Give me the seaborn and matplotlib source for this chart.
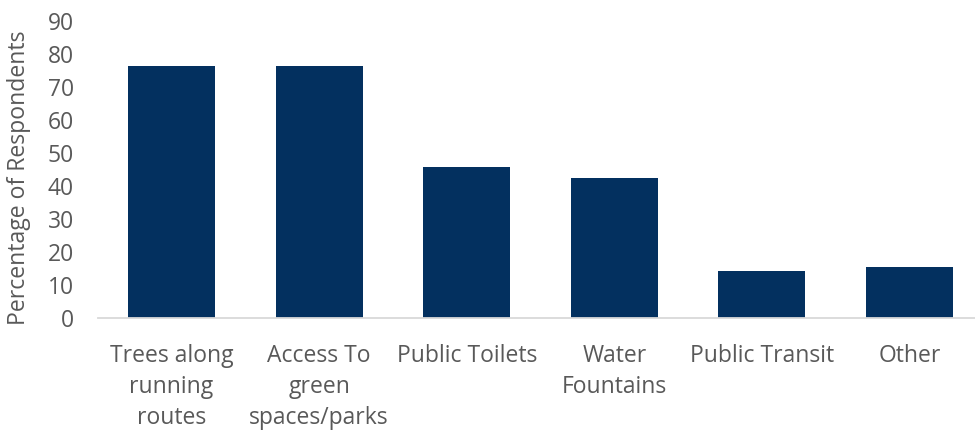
import matplotlib
matplotlib.use("Agg")
import matplotlib.pyplot as plt
import seaborn as sns
import pandas as pd

categories = ["Trees along\nrunning\nroutes", "Access To\ngreen\nspaces/parks", "Public Toilets",
              "Water\nFountains", "Public Transit", "Other"]
values = [76.5, 76.5, 45.8, 42.5, 14.2, 15.4]
yticks = [0, 10, 20, 30, 40, 50, 60, 70, 80, 90]

sns.set_theme(style="white")
plt.rcParams['font.family'] = ['Open Sans', 'DejaVu Sans']

df = pd.DataFrame({"cat": categories, "val": values})

fig = plt.figure(figsize=(9.75, 4.32), dpi=100)
ax = fig.add_axes([97.7/975, 1-318/432, (983.3-97.7)/975, (318-21)/432])
sns.barplot(data=df, x="cat", y="val", color="#03305f", saturation=1, width=0.59, ax=ax)
for p in ax.patches:
    p.set_edgecolor("none")

ax.set_ylim(0, 90)
ax.set_yticks(yticks)
ax.set_yticklabels([str(t) for t in yticks])
ax.set_xlim(-0.5, len(categories) - 0.5)
ax.set_xlabel("")
ax.set_ylabel("Percentage of Respondents", fontsize=16.6, color="#595959")
ax.yaxis.set_label_coords((31 - 97.7) / 885.6, (318 - 178) / 297)

for s in ["top", "right", "left"]:
    ax.spines[s].set_visible(False)
ax.spines["bottom"].set_color("#d9d9d9")
ax.spines["bottom"].set_linewidth(1.3)

ax.tick_params(axis="y", length=0, pad=17, labelsize=16.5, labelcolor="#595959")
ax.tick_params(axis="x", length=0, pad=18.5, labelsize=16.5, labelcolor="#595959")
for lbl in ax.get_xticklabels():
    lbl.set_linespacing(1.4)
    lbl.set_ha("center")

fig.savefig("out.png", dpi=100)
